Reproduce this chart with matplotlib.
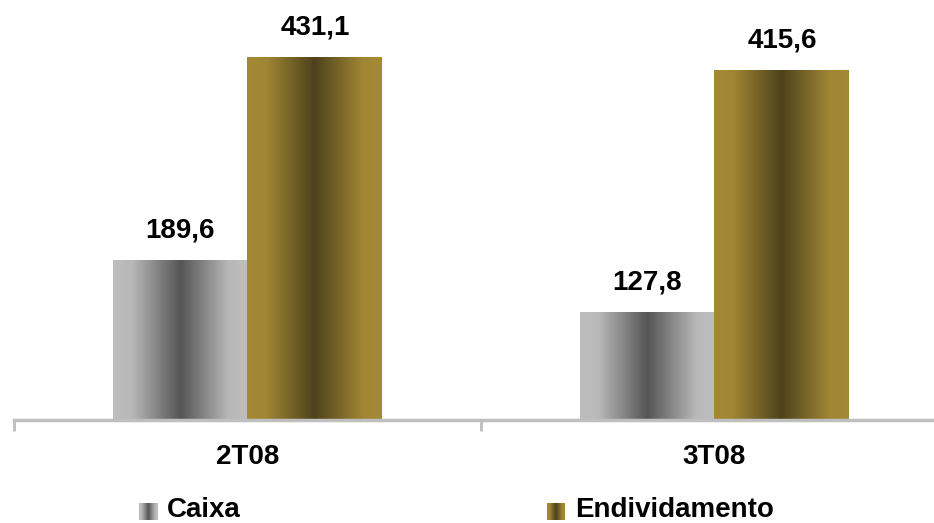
import numpy as np
import matplotlib
matplotlib.use("Agg")
import matplotlib.pyplot as plt
from matplotlib.colors import LinearSegmentedColormap

plt.rcParams['font.family'] = ['Liberation Sans', 'DejaVu Sans']

categories = ["2T08", "3T08"]
series_names = ["Caixa", "Endividamento"]
caixa = [189.6, 127.8]
endividamento = [431.1, 415.6]

# gradient colours: edge, centre
gray_cmap = LinearSegmentedColormap.from_list(
    "gray_grad", [(0, "#BEBEBE"), (0.14, "#B8B8B8"), (0.5, "#555555"), (0.86, "#B8B8B8"), (1, "#BEBEBE")])
gold_cmap = LinearSegmentedColormap.from_list(
    "gold_grad", [(0, "#A48A36"), (0.14, "#A08634"), (0.5, "#4E421C"), (0.86, "#A08634"), (1, "#A48A36")])

W, H = 934, 523
fig = plt.figure(figsize=(W / 100, H / 100), dpi=100)
ax = fig.add_axes([14 / W, (H - 420) / H, (948 - 14) / W, 420 / H])

x = np.arange(len(categories))
width = 0.289
grad = np.linspace(0, 1, 256).reshape(1, -1)

def gradient_bars(xs, vals, cmap):
    bars = ax.bar(xs, vals, width, facecolor="none", edgecolor="none")
    for rect, v in zip(bars, vals):
        x0 = rect.get_x()
        ax.imshow(grad, cmap=cmap, aspect="auto",
                  extent=(x0, x0 + rect.get_width(), 0, rect.get_height()), zorder=2)
        ax.annotate(f"{v:.1f}".replace(".", ","), (x0 + rect.get_width() / 2, v),
                    xytext=(0, 16.5), textcoords="offset points", ha="center", va="baseline",
                    fontsize=20, fontweight="bold")
    return bars

gradient_bars(x - width / 2, caixa, gray_cmap)
gradient_bars(x + width / 2, endividamento, gold_cmap)

ax.set_xlim(-0.5, len(categories) - 0.5)
ax.set_ylim(0, 500)
for s in ["left", "right", "top"]:
    ax.spines[s].set_visible(False)
ax.spines["bottom"].set_color("#BFBFBF")
ax.spines["bottom"].set_linewidth(2.5)
ax.set_yticks([])
ax.set_xticks(x)
ax.set_xticklabels(categories, fontsize=20, fontweight="bold")
ax.tick_params(axis="x", which="major", length=0, pad=17)
ax.set_xticks(np.arange(len(categories) + 1) - 0.5, minor=True)
ax.tick_params(axis="x", which="minor", length=8, width=2, color="#BFBFBF")

# legend
legend_items = [(series_names[0], gray_cmap, 139), (series_names[1], gold_cmap, 547)]
for name, cmap, px in legend_items:
    lax = fig.add_axes([px / W, (H - 520) / H, 18 / W, 17 / H])
    lax.imshow(grad, cmap=cmap, aspect="auto")
    lax.axis("off")
    fig.text((px + 28) / W, (H - 510) / H, name, fontsize=20, fontweight="bold",
             ha="left", va="center")

fig.savefig("out.png", dpi=100)
